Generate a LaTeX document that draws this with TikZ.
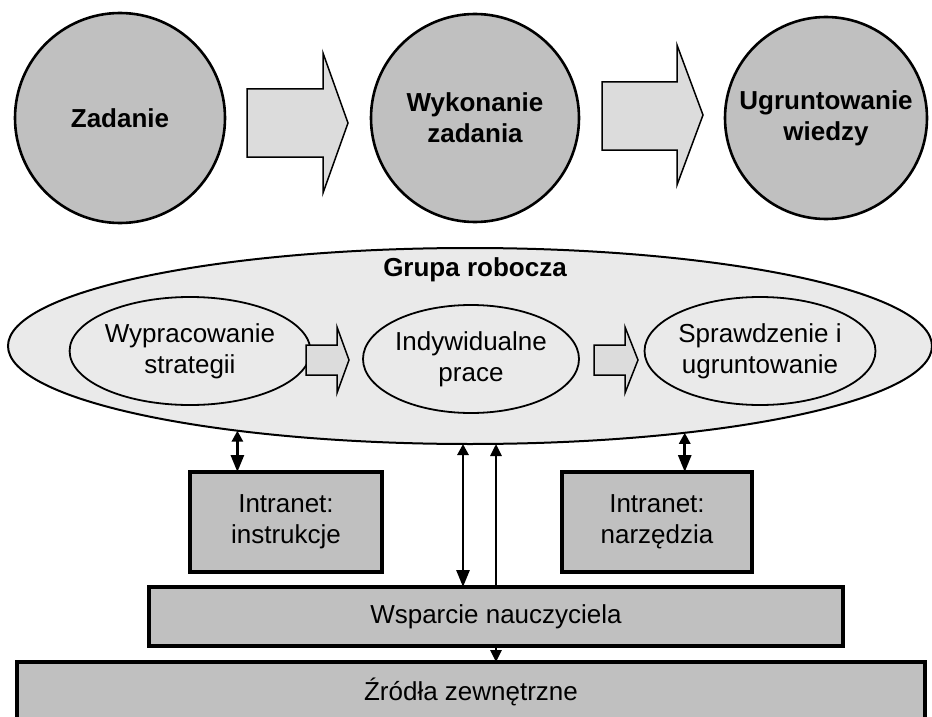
\documentclass[tikz,border=0pt]{standalone}
\usepackage{fontspec}
\setmainfont{Liberation Sans}
\usetikzlibrary{arrows.meta,positioning,shapes.geometric}
\definecolor{fillmid}{HTML}{C0C0C0}
\definecolor{filllight}{HTML}{EAEAEA}
\definecolor{fillarrow}{HTML}{DCDCDC}

\begin{document}
\begin{tikzpicture}[x=1pt,y=-1pt,
    every node/.style={font=\fontsize{26}{31}\selectfont,inner sep=0pt,outer sep=0pt},
    phase/.style={draw,circle,line width=2.6pt,fill=fillmid,align=center,
                  font=\fontsize{26}{31}\selectfont\bfseries},
    group/.style={draw,ellipse,line width=2pt,fill=filllight,
                  minimum width=924pt,minimum height=196pt},
    substep/.style={draw,ellipse,line width=1.8pt,fill=filllight,align=center,
                    minimum width=216pt,minimum height=108pt},
    resource/.style={draw,rectangle,line width=3.2pt,fill=fillmid,align=center},
    bigarr/.style={draw,line width=1.5pt,fill=fillarrow},
    link/.style={line width=2.8pt,
                 {Triangle[length=11pt,width=11pt]}-{Triangle[length=17pt,width=13pt]}},
    uplink/.style={line width=2.8pt,-{Triangle[length=12pt,width=11pt]}},
  ]
  \useasboundingbox (0,0) rectangle (932,717);

  % phases
  \node[phase,minimum size=210pt] (task) at (120,118) {Zadanie};
  \node[phase,minimum size=208pt] (work) at (475,118) {Wykonanie\\zadania};
  \node[phase,minimum size=202pt] (know) at (826,118) {Ugruntowanie\\wiedzy};

  \draw[bigarr] (247,89) -- (323,89) -- (323,53) -- (348,123) -- (323,193)
    -- (323,157) -- (247,157) -- cycle;
  \draw[bigarr] (602,82) -- (677,82) -- (677,45) -- (703,115) -- (677,185)
    -- (677,150) -- (602,150) -- cycle;

  % work group
  \node[group] (grupa) at (470,346) {};
  \node[font=\fontsize{26}{31}\selectfont\bfseries] (grupalbl) at (475,270) {Grupa robocza};

  \node[substep] (strat) at (190,351) {Wypracowanie\\strategii};
  \node[substep] (indiv) at (471,359) {Indywidualne\\prace};
  \node[substep] (check) at (760,351) {Sprawdzenie i\\ugruntowanie};

  \draw[bigarr] (306,345) -- (337,345) -- (337,327) -- (349,360) -- (337,393)
    -- (337,375) -- (306,375) -- cycle;
  \draw[bigarr] (594,345) -- (625,345) -- (625,327) -- (638,360) -- (625,393)
    -- (625,375) -- (594,375) -- cycle;

  % resources
  \node[resource,minimum width=192pt,minimum height=100pt] (instr) at (286,522)
    {Intranet:\\instrukcje};
  \node[resource,minimum width=190pt,minimum height=100pt] (narz) at (657,522)
    {Intranet:\\narzędzia};
  \node[resource,minimum width=694pt,minimum height=59pt] (wsp) at (496,616.5)
    {Wsparcie nauczyciela};
  \node[resource,minimum width=908pt,minimum height=60pt] (zrodla) at (471,692)
    {Źródła zewnętrzne};

  \draw[link] (grupa.200.3) -- (grupa.200.3 |- instr.north);
  \draw[link] (grupa.338.9) -- (grupa.338.9 |- narz.north);
  \draw[link] ([xshift=-33pt]wsp.north |- grupa.south) -- ([xshift=-33pt]wsp.north);
  \draw[uplink] (wsp.north) -- (wsp.north |- grupa.south);
  \draw[uplink] (wsp.south) -- (wsp.south |- zrodla.north);
\end{tikzpicture}
\end{document}
